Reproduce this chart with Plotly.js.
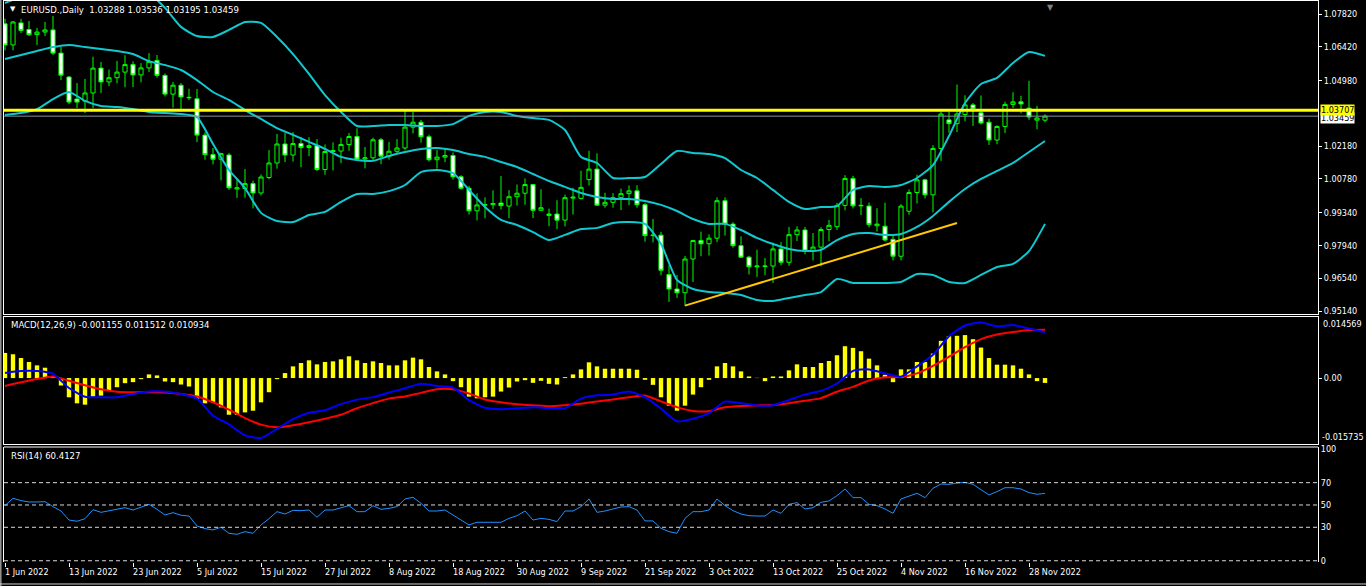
<!DOCTYPE html>
<html><head><meta charset="utf-8">
<script src="https://cdn.plot.ly/plotly-3.0.1.min.js"></script>
<style>html,body{margin:0;padding:0;background:#000;overflow:hidden}#chart{width:1366px;height:586px}</style>
</head><body><div id="chart"></div>
<script>
// ---- trading days (categories) ----
const dates = [
 '2022-06-01','2022-06-02','2022-06-03','2022-06-06','2022-06-07','2022-06-08','2022-06-09','2022-06-10','2022-06-13','2022-06-14',
 '2022-06-15','2022-06-16','2022-06-17','2022-06-20','2022-06-21','2022-06-22','2022-06-23','2022-06-24','2022-06-27','2022-06-28',
 '2022-06-29','2022-06-30','2022-07-01','2022-07-04','2022-07-05','2022-07-06','2022-07-07','2022-07-08','2022-07-11','2022-07-12',
 '2022-07-13','2022-07-14','2022-07-15','2022-07-18','2022-07-19','2022-07-20','2022-07-21','2022-07-22','2022-07-25','2022-07-26',
 '2022-07-27','2022-07-28','2022-07-29','2022-08-01','2022-08-02','2022-08-03','2022-08-04','2022-08-05','2022-08-08','2022-08-09',
 '2022-08-10','2022-08-11','2022-08-12','2022-08-15','2022-08-16','2022-08-17','2022-08-18','2022-08-19','2022-08-22','2022-08-23',
 '2022-08-24','2022-08-25','2022-08-26','2022-08-29','2022-08-30','2022-08-31','2022-09-01','2022-09-02','2022-09-05','2022-09-06',
 '2022-09-07','2022-09-08','2022-09-09','2022-09-12','2022-09-13','2022-09-14','2022-09-15','2022-09-16','2022-09-19','2022-09-20',
 '2022-09-21','2022-09-22','2022-09-23','2022-09-26','2022-09-27','2022-09-28','2022-09-29','2022-09-30','2022-10-03','2022-10-04',
 '2022-10-05','2022-10-06','2022-10-07','2022-10-10','2022-10-11','2022-10-12','2022-10-13','2022-10-14','2022-10-17','2022-10-18',
 '2022-10-19','2022-10-20','2022-10-21','2022-10-24','2022-10-25','2022-10-26','2022-10-27','2022-10-28','2022-10-31','2022-11-01',
 '2022-11-02','2022-11-03','2022-11-04','2022-11-07','2022-11-08','2022-11-09','2022-11-10','2022-11-11','2022-11-14','2022-11-15',
 '2022-11-16','2022-11-17','2022-11-18','2022-11-21','2022-11-22','2022-11-23','2022-11-24','2022-11-25','2022-11-28','2022-11-29',
 '2022-11-30'];

// ---- OHLC ----
const open = [1.0740,1.0650,1.0744,1.0716,1.0694,1.0705,1.0714,1.0615,1.0513,1.0419,
 1.0410,1.0445,1.0551,1.0492,1.0510,1.0534,1.0566,1.0522,1.0552,1.0584,
 1.0520,1.0440,1.0478,1.0424,1.0420,1.0265,1.0182,1.0162,1.0180,1.0035,
 1.0037,1.0058,1.0018,1.0084,1.0146,1.0227,1.0180,1.0229,1.0212,1.0220,
 1.0118,1.0195,1.0197,1.0225,1.0259,1.0163,1.0168,1.0245,1.0175,1.0196,
 1.0210,1.0299,1.0320,1.0258,1.0160,1.0171,1.0178,1.0087,1.0038,0.9942,
 0.9966,0.9968,0.9975,0.9962,1.0002,1.0017,1.0054,0.9944,0.9922,0.9928,
 0.9902,0.9996,0.9995,1.0075,1.0120,0.9966,0.9978,0.9998,1.0015,1.0027,
 0.9968,0.9836,0.9838,0.9670,0.9608,0.9592,0.9736,0.9815,0.9801,0.9825,
 0.9985,0.9885,0.9793,0.9744,0.9703,0.9704,0.9706,0.9779,0.9722,0.9840,
 0.9860,0.9770,0.9787,0.9862,0.9874,0.9965,1.0080,0.9963,0.9962,0.9878,
 0.9876,0.9820,0.9748,0.9940,1.0020,1.0074,1.0010,1.0208,1.0330,1.0314,
 1.0353,1.0394,1.0360,1.0320,1.0244,1.0302,1.0396,1.0407,1.0380,1.0329,
 1.03288];
const high = [1.0762,1.0752,1.0761,1.0752,1.0722,1.0748,1.0774,1.0641,1.0517,1.0487,
 1.0505,1.0600,1.0577,1.0545,1.0582,1.0606,1.0580,1.0572,1.0615,1.0607,
 1.0528,1.0492,1.0487,1.0463,1.0462,1.0277,1.0210,1.0190,1.0189,1.0073,
 1.0120,1.0071,1.0097,1.0201,1.0270,1.0274,1.0278,1.0258,1.0256,1.0248,
 1.0225,1.0234,1.0254,1.0274,1.0294,1.0214,1.0254,1.0253,1.0236,1.0248,
 1.0368,1.0364,1.0330,1.0267,1.0201,1.0202,1.0191,1.0094,1.0048,1.0016,
 0.9999,1.0029,1.0090,1.0030,1.0054,1.0080,1.0056,1.0034,0.9951,0.9987,
 1.0011,1.0040,1.0113,1.0198,1.0187,1.0019,1.0017,1.0037,1.0050,1.0051,
 0.9976,0.9907,0.9852,0.9709,0.9668,0.9749,0.9817,0.9853,0.9841,0.9999,
 0.9999,0.9893,0.9833,0.9750,0.9776,0.9740,0.9806,0.9808,0.9873,0.9876,
 0.9873,0.9847,0.9872,0.9903,0.9976,1.0094,1.0091,0.9996,0.9977,0.9953,
 0.9977,0.9836,0.9970,1.0033,1.0096,1.0079,1.0222,1.0365,1.0364,1.0481,
 1.0435,1.0402,1.0434,1.0335,1.0307,1.0408,1.0448,1.0433,1.0497,1.0390,
 1.03536];
const low = [1.0627,1.0627,1.0701,1.0688,1.0650,1.0688,1.0607,1.0500,1.0397,1.0380,
 1.0359,1.0380,1.0445,1.0474,1.0486,1.0469,1.0470,1.0490,1.0534,1.0510,
 1.0430,1.0382,1.0366,1.0415,1.0235,1.0160,1.0140,1.0072,1.0031,0.9997,
 0.9998,0.9952,1.0007,1.0077,1.0122,1.0150,1.0152,1.0128,1.0175,1.0112,
 1.0096,1.0114,1.0145,1.0198,1.0160,1.0123,1.0155,1.0141,1.0160,1.0188,
 1.0200,1.0272,1.0233,1.0152,1.0122,1.0150,1.0075,1.0033,0.9926,0.9901,
 0.9910,0.9950,0.9948,0.9910,0.9964,0.9968,0.9911,0.9943,0.9876,0.9864,
 0.9875,0.9926,0.9990,1.0050,0.9966,0.9955,0.9955,0.9945,0.9966,0.9955,
 0.9810,0.9807,0.9667,0.9553,0.9570,0.9536,0.9638,0.9748,0.9751,0.9808,
 0.9836,0.9784,0.9743,0.9670,0.9660,0.9667,0.9634,0.9709,0.9707,0.9813,
 0.9756,0.9730,0.9705,0.9812,0.9860,0.9944,0.9952,0.9924,0.9871,0.9853,
 0.9811,0.9730,0.9730,0.9925,0.9973,0.9995,0.9935,1.0155,1.0275,1.0278,
 1.0324,1.0304,1.0310,1.0223,1.0226,1.0274,1.0381,1.0358,1.0330,1.0290,
 1.03195];
const close = [1.0650,1.0748,1.0712,1.0694,1.0705,1.0714,1.0615,1.0521,1.0406,1.0406,
 1.0445,1.0551,1.0492,1.0510,1.0534,1.0566,1.0522,1.0552,1.0580,1.0520,
 1.0440,1.0478,1.0428,1.0426,1.0265,1.0182,1.0162,1.0186,1.0040,1.0040,
 1.0058,1.0018,1.0086,1.0146,1.0227,1.0180,1.0229,1.0212,1.0220,1.0118,
 1.0195,1.0199,1.0225,1.0259,1.0163,1.0168,1.0245,1.0175,1.0196,1.0210,
 1.0299,1.0320,1.0258,1.0160,1.0171,1.0178,1.0087,1.0038,0.9942,0.9967,
 0.9968,0.9973,0.9964,1.0002,1.0017,1.0054,0.9944,0.9955,0.9928,0.9902,
 0.9998,1.0000,1.0042,1.0120,0.9966,0.9978,0.9998,1.0015,1.0027,0.9968,
 0.9836,0.9838,0.9688,0.9608,0.9592,0.9736,0.9815,0.9801,0.9825,0.9985,
 0.9885,0.9793,0.9744,0.9703,0.9706,0.9706,0.9779,0.9722,0.9840,0.9860,
 0.9770,0.9787,0.9862,0.9880,0.9965,1.0080,0.9963,0.9965,0.9883,0.9885,
 0.9817,0.9748,0.9962,1.0020,1.0074,1.0010,1.0208,1.0355,1.0314,1.0355,
 1.0394,1.0377,1.0317,1.0244,1.0302,1.0396,1.0407,1.0398,1.0342,1.0338,
 1.03459];

// ---- Bollinger Bands (read every second bar) ----
const bandDates = dates.filter((d, i) => i % 2 === 0);
const bbUpper = [1.0829,1.0855,1.0872,1.0863,1.0850,1.0872,1.0876,1.0863,1.0846,1.0867,
 1.0808,1.0727,1.0688,1.0684,1.0714,1.0748,1.0744,1.0684,1.0611,1.0526,
 1.0436,1.0364,1.0304,1.0304,1.0308,1.0308,1.0304,1.0304,1.0312,1.0347,
 1.0364,1.0364,1.0347,1.0338,1.0330,1.0287,1.0172,1.0146,1.0082,1.0082,
 1.0086,1.0142,1.0197,1.0189,1.0184,1.0167,1.0116,1.0082,1.0031,0.9980,
 0.9950,0.9958,0.9962,1.0031,1.0048,1.0044,1.0052,1.0082,1.0137,1.0261,
 1.0402,1.0483,1.0509,1.0573,1.0620,1.0603];
const bbMiddle = [1.0590,1.0607,1.0624,1.0641,1.0650,1.0641,1.0633,1.0624,1.0611,1.0581,
 1.0564,1.0543,1.0500,1.0449,1.0415,1.0372,1.0334,1.0295,1.0266,1.0236,
 1.0206,1.0172,1.0159,1.0155,1.0176,1.0193,1.0206,1.0210,1.0201,1.0184,
 1.0172,1.0150,1.0129,1.0099,1.0069,1.0044,1.0018,1.0001,0.9992,0.9992,
 0.9984,0.9967,0.9941,0.9907,0.9886,0.9886,0.9860,0.9826,0.9800,0.9779,
 0.9770,0.9775,0.9817,0.9843,0.9847,0.9839,0.9843,0.9873,0.9920,0.9980,
 1.0035,1.0078,1.0112,1.0146,1.0193,1.0240];
const bbLower = [1.0351,1.0359,1.0376,1.0419,1.0449,1.0411,1.0389,1.0385,1.0376,1.0364,
 1.0359,1.0355,1.0342,1.0227,1.0116,1.0039,0.9933,0.9898,0.9894,0.9924,
 0.9937,0.9980,1.0014,1.0014,1.0026,1.0052,1.0107,1.0116,1.0103,1.0031,
 0.9958,0.9903,0.9881,0.9851,0.9817,0.9839,0.9864,0.9869,0.9890,0.9894,
 0.9886,0.9800,0.9647,0.9608,0.9595,0.9591,0.9582,0.9561,0.9557,0.9570,
 0.9582,0.9595,0.9651,0.9634,0.9634,0.9634,0.9638,0.9672,0.9668,0.9638,
 0.9634,0.9668,0.9702,0.9715,0.9770,0.9886];

// ---- MACD(12,26,9) ----
const macdHist = [0.00600,0.00568,0.00479,0.00383,0.00303,0.00247,0.00020,-0.00178,-0.00459,-0.00603,
 -0.00635,-0.00443,-0.00419,-0.00298,-0.00218,-0.00122,-0.00098,-0.00026,0.00087,0.00063,
 -0.00082,-0.00098,-0.00154,-0.00202,-0.00498,-0.00603,-0.00579,-0.00699,-0.00875,-0.00875,
 -0.00819,-0.00779,-0.00579,-0.00338,-0.00026,0.00119,0.00279,0.00359,0.00423,0.00327,
 0.00383,0.00399,0.00447,0.00519,0.00423,0.00359,0.00399,0.00359,0.00303,0.00303,
 0.00423,0.00487,0.00447,0.00263,0.00159,0.00087,-0.00074,-0.00218,-0.00443,-0.00483,
 -0.00459,-0.00443,-0.00322,-0.00226,-0.00082,-0.00050,-0.00114,-0.00066,-0.00138,-0.00154,
 0.00022,0.00087,0.00207,0.00375,0.00279,0.00223,0.00223,0.00223,0.00223,0.00199,
 -0.00042,-0.00162,-0.00459,-0.00659,-0.00779,-0.00659,-0.00394,-0.00218,-0.00042,0.00279,
 0.00359,0.00279,0.00159,0.00038,0.00006,-0.00074,0.00038,0.00038,0.00183,0.00327,
 0.00263,0.00263,0.00359,0.00407,0.00544,0.00760,0.00720,0.00640,0.00463,0.00303,
 0.00079,-0.00098,0.00207,0.00207,0.00383,0.00383,0.00584,0.00888,0.01000,0.01008,
 0.01025,0.00928,0.00728,0.00479,0.00319,0.00319,0.00303,0.00223,0.00087,-0.00074,
 -0.00116];
const macdMain = [0.00123,0.00166,0.00166,0.00103,-0.00238,-0.00447,-0.00459,-0.00459,-0.00382,-0.00322,
 -0.00322,-0.00382,-0.00491,-0.00899,-0.01104,-0.01368,-0.01429,-0.01212,-0.00979,-0.00827,
 -0.00767,-0.00623,-0.00515,-0.00455,-0.00346,-0.00243,-0.00137,-0.00190,-0.00226,-0.00527,
 -0.00707,-0.00743,-0.00719,-0.00695,-0.00714,-0.00719,-0.00491,-0.00411,-0.00394,-0.00322,
 -0.00455,-0.00731,-0.01032,-0.00972,-0.00839,-0.00563,-0.00599,-0.00654,-0.00647,-0.00522,
 -0.00390,-0.00305,-0.00130,0.00171,0.00207,0.00111,0.00034,0.00279,0.00556,0.01000,
 0.01253,0.01325,0.01234,0.01265,0.01181,0.01093];
const macdSignal = [-0.00190,-0.00101,-0.00022,0.00038,-0.00065,-0.00171,-0.00269,-0.00327,-0.00339,-0.00339,
 -0.00344,-0.00380,-0.00438,-0.00577,-0.00755,-0.00955,-0.01111,-0.01176,-0.01128,-0.01056,
 -0.00972,-0.00875,-0.00719,-0.00599,-0.00491,-0.00438,-0.00354,-0.00265,-0.00269,-0.00370,
 -0.00512,-0.00580,-0.00628,-0.00647,-0.00673,-0.00647,-0.00611,-0.00558,-0.00510,-0.00459,
 -0.00418,-0.00556,-0.00693,-0.00784,-0.00791,-0.00697,-0.00666,-0.00654,-0.00642,-0.00599,
 -0.00544,-0.00479,-0.00327,-0.00209,-0.00058,0.00017,0.00022,0.00111,0.00291,0.00510,
 0.00738,0.00928,0.01037,0.01097,0.01145,0.01151];

// ---- RSI(14) ----
const rsi = [49.4,56.0,53.9,52.7,52.7,53.0,48.5,44.6,36.5,35.4,
 37.7,45.8,43.4,44.6,46.1,47.6,45.5,47.9,50.6,46.1,
 41.0,43.1,40.8,40.1,31.2,28.8,27.6,30.0,24.6,23.7,
 26.1,24.6,32.1,37.7,44.0,41.9,45.2,44.9,45.5,39.0,
 45.5,45.5,47.6,49.4,44.0,44.0,49.4,46.1,47.0,48.5,
 55.4,56.9,51.5,44.6,44.6,45.5,41.0,36.5,32.1,34.5,
 34.5,35.1,34.5,38.0,40.4,44.6,36.5,38.0,37.1,35.1,
 44.6,44.6,48.5,55.4,43.4,44.6,46.4,48.2,48.5,45.5,
 35.7,35.7,29.1,26.1,24.6,38.0,44.0,44.0,45.5,55.4,
 49.4,44.9,41.9,40.4,40.1,40.1,45.5,42.5,50.6,52.1,
 46.4,47.6,52.4,53.6,58.4,64.3,56.6,56.6,50.6,49.4,
 46.4,42.5,55.4,58.1,60.5,56.6,65.0,68.8,68.5,69.7,
 70.3,68.5,63.5,59.0,62.0,65.5,65.5,64.3,61.1,59.6,
 60.41];
const rsiLevels = [0, 30, 50, 70];

// ---- lines / labels ----
const levelLine = 1.03707;
const bidPrice = 1.03459;
const trendDates = ['2022-09-28', '2022-11-15'];
const trendPrices = [0.9537, 0.9890];
const priceTicks = [1.07820, 1.06420, 1.04980, 1.02180, 1.00780, 0.99340, 0.97940, 0.96540, 0.95140];
const macdTop = 0.014569, macdBottom = -0.015735;
const rsiTicks = [0, 30, 50, 70, 100];
const dateTickDates = ['2022-06-01','2022-06-13','2022-06-23','2022-07-05','2022-07-15','2022-07-27','2022-08-08','2022-08-18',
 '2022-08-30','2022-09-09','2022-09-21','2022-10-03','2022-10-13','2022-10-25','2022-11-04','2022-11-16','2022-11-28'];
const dateTickLabels = ['1 Jun 2022','13 Jun 2022','23 Jun 2022','5 Jul 2022','15 Jul 2022','27 Jul 2022','8 Aug 2022','18 Aug 2022',
 '30 Aug 2022','9 Sep 2022','21 Sep 2022','3 Oct 2022','13 Oct 2022','25 Oct 2022','4 Nov 2022','16 Nov 2022','28 Nov 2022'];
const titleText = 'EURUSD.,Daily  1.03288 1.03536 1.03195 1.03459';
const macdText = 'MACD(12,26,9) -0.001155 0.011512 0.010934';
const rsiText = 'RSI(14) 60.4127';

const FONT = 'Tahoma, "DejaVu Sans Condensed", "Liberation Sans", Arial, sans-serif';
const W = '#FFFFFF';
const FS = 9;

const traces = [
  {type: 'candlestick', x: dates, open: open, high: high, low: low, close: close,
   xaxis: 'x', yaxis: 'y', hoverinfo: 'skip',
   increasing: {line: {color: '#00FF00', width: 1}, fillcolor: '#000000'},
   decreasing: {line: {color: '#00FF00', width: 1}, fillcolor: '#FFFFFF'}},
  {type: 'scatter', mode: 'lines', x: bandDates, y: bbUpper, xaxis: 'x', yaxis: 'y', line: {color: '#10C8D0', width: 2, shape: 'spline', smoothing: 0.6}, hoverinfo: 'skip'},
  {type: 'scatter', mode: 'lines', x: bandDates, y: bbMiddle, xaxis: 'x', yaxis: 'y', line: {color: '#10C8D0', width: 2, shape: 'spline', smoothing: 0.6}, hoverinfo: 'skip'},
  {type: 'scatter', mode: 'lines', x: bandDates, y: bbLower, xaxis: 'x', yaxis: 'y', line: {color: '#10C8D0', width: 2, shape: 'spline', smoothing: 0.6}, hoverinfo: 'skip'},
  {type: 'scatter', mode: 'lines', x: trendDates, y: trendPrices, xaxis: 'x', yaxis: 'y', line: {color: '#FFC800', width: 2}, hoverinfo: 'skip'},
  {type: 'bar', x: dates, y: macdHist, xaxis: 'x2', yaxis: 'y2', width: 0.55, marker: {color: '#FFFF00', line: {width: 0}}, hoverinfo: 'skip'},
  {type: 'scatter', mode: 'lines', x: bandDates, y: macdSignal, xaxis: 'x2', yaxis: 'y2', line: {color: '#FF0000', width: 2, shape: 'spline', smoothing: 0.6}, hoverinfo: 'skip'},
  {type: 'scatter', mode: 'lines', x: bandDates, y: macdMain, xaxis: 'x2', yaxis: 'y2', line: {color: '#0000FF', width: 2, shape: 'spline', smoothing: 0.6}, hoverinfo: 'skip'},
  {type: 'scatter', mode: 'lines', x: dates, y: rsi, xaxis: 'x3', yaxis: 'y3', line: {color: '#1E90FF', width: 1}, hoverinfo: 'skip'}
];

const xBase = {type: 'category', categoryorder: 'array', categoryarray: dates, showgrid: false, zeroline: false,
  fixedrange: true, rangeslider: {visible: false}};
const yBase = {side: 'right', showgrid: false, zeroline: false, fixedrange: true, ticks: 'outside', ticklen: 3,
  tickcolor: W, tickwidth: 1, showline: true, mirror: true, linecolor: W, linewidth: 1,
  tickfont: {family: FONT, size: FS, color: W}};

// panel geometry in paper units
const pPrice = [0.44118, 1.0], pMacd = [0.21034, 0.43672], pRsi = [0, 0.20499];

const shapes = [
  {type: 'line', xref: 'paper', yref: 'y', x0: 0, x1: 1, y0: bidPrice, y1: bidPrice, line: {color: '#8090A0', width: 1}},
  {type: 'line', xref: 'paper', yref: 'y', x0: 0, x1: 1, y0: levelLine, y1: levelLine, line: {color: '#FFFF00', width: 3}},
  {type: 'line', xref: 'paper', yref: 'paper', x0: 0, x1: 1, y0: pRsi[1], y1: pRsi[1], line: {color: W, width: 1}},
  {type: 'line', xref: 'paper', yref: 'paper', x0: -0.0026, x1: -0.0026, y0: -0.045, y1: 1.01, line: {color: '#909090', width: 2}},
  {type: 'line', xref: 'paper', yref: 'paper', x0: -0.004, x1: 1.04, y0: -0.0392, y1: -0.0392, line: {color: '#D0D0D0', width: 1}}
];
rsiLevels.forEach(v => shapes.push({type: 'line', xref: 'paper', yref: 'y3', x0: 0, x1: 1, y0: v, y1: v,
  line: {color: '#D8D8D8', width: 1, dash: '4px,3px'}}));

const annotations = [
  {xref: 'paper', yref: 'paper', x: 0.0032, y: 0.9862, xanchor: 'left', yanchor: 'middle', showarrow: false,
   text: '▼', font: {family: 'DejaVu Sans', size: 7, color: W}},
  {xref: 'paper', yref: 'paper', x: 0.0115, y: 0.9840, xanchor: 'left', yanchor: 'middle', showarrow: false,
   text: titleText, font: {family: FONT, size: 9.5, color: W}},
  {xref: 'paper', yref: 'paper', x: 0.7968, y: 1.0, xanchor: 'center', yanchor: 'top', showarrow: false,
   text: '▼', font: {family: 'DejaVu Sans', size: 8, color: '#808080'}},
  {xref: 'paper', yref: 'paper', x: 0.0035, y: 0.4225, xanchor: 'left', yanchor: 'middle', showarrow: false,
   text: macdText, font: {family: FONT, size: 9.5, color: W}},
  {xref: 'paper', yref: 'paper', x: 0.0035, y: 0.1907, xanchor: 'left', yanchor: 'middle', showarrow: false,
   text: rsiText, font: {family: FONT, size: 9.5, color: W}},
  {xref: 'paper', yref: 'y2', x: 1.0022, y: macdTop, xanchor: 'left', yanchor: 'top', showarrow: false,
   text: macdTop.toFixed(6), font: {family: FONT, size: FS, color: W}},
  {xref: 'paper', yref: 'y2', x: 1.0016, y: macdBottom, xanchor: 'left', yanchor: 'bottom', showarrow: false,
   text: macdBottom.toFixed(6), font: {family: FONT, size: FS, color: W}},
  {xref: 'paper', yref: 'y', x: 1.0015, y: bidPrice, xanchor: 'left', yanchor: 'middle', showarrow: false, yshift: -2,
   text: bidPrice.toFixed(5), bgcolor: '#FFFFFF', borderpad: 0, font: {family: FONT, size: FS, color: '#000000'}},
  {xref: 'paper', yref: 'y', x: 1.0015, y: levelLine, xanchor: 'left', yanchor: 'middle', showarrow: false,
   text: levelLine.toFixed(5), bgcolor: '#FFFF00', borderpad: 0, font: {family: FONT, size: FS, color: '#000000'}}
];
dateTickDates.forEach((d, i) => annotations.push({xref: 'x3', yref: 'paper', x: d, y: -0.0178,
  xanchor: 'left', yanchor: 'middle', xshift: -2, showarrow: false, text: dateTickLabels[i],
  font: {family: FONT, size: FS, color: W}}));

const layout = {
  width: 1366, height: 586,
  margin: {l: 4, r: 48, t: 1, b: 24, pad: 0},
  paper_bgcolor: '#000000', plot_bgcolor: '#000000',
  showlegend: false, hovermode: false, dragmode: false,
  font: {family: FONT, size: FS, color: W},
  boxgap: 0.28, boxgroupgap: 0.28,
  xaxis: Object.assign({}, xBase, {anchor: 'y', range: [-0.125, 164.125], showticklabels: false, ticks: '',
    showline: true, mirror: true, linecolor: W, linewidth: 1}),
  xaxis2: Object.assign({}, xBase, {anchor: 'y2', matches: 'x', showticklabels: false, ticks: '',
    showline: true, mirror: true, linecolor: W, linewidth: 1}),
  xaxis3: Object.assign({}, xBase, {anchor: 'y3', matches: 'x', showticklabels: false, showline: false,
    ticks: 'outside', ticklen: 4, tickcolor: W, tickwidth: 1, tickmode: 'array', tickvals: dateTickDates}),
  yaxis: Object.assign({}, yBase, {domain: pPrice, range: [0.94992, 1.08375], tickmode: 'array',
    tickvals: priceTicks, ticktext: priceTicks.map(v => v.toFixed(5))}),
  yaxis2: Object.assign({}, yBase, {domain: pMacd, range: [macdBottom, macdTop], tickmode: 'array',
    tickvals: [0], ticktext: ['0.00']}),
  yaxis3: Object.assign({}, yBase, {domain: pRsi, range: [-1.12, 101.98], tickmode: 'array',
    tickvals: rsiTicks, ticktext: rsiTicks.map(String), ticks: ''}),
  shapes: shapes,
  annotations: annotations
};

Plotly.newPlot('chart', traces, layout, {staticPlot: true, displayModeBar: false});
</script>
</body></html>
